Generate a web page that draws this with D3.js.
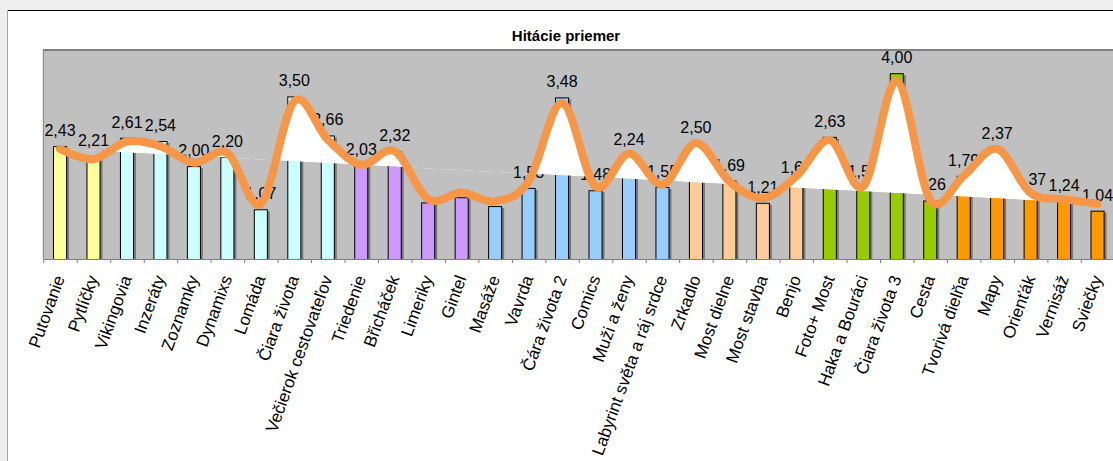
<!DOCTYPE html>
<html>
<head>
<meta charset="utf-8">
<script src="https://cdn.jsdelivr.net/npm/d3@7"></script>
<style>
  body { margin: 0; background: #efefef; overflow: hidden; }
  text { font-family: "Liberation Sans", Arial, sans-serif; }
</style>
</head>
<body>
<svg id="chart" width="1113" height="461"></svg>
<script>
// Data
const categories = [
    "Putovanie", "Pytlíčky", "Vikingovia", "Inzeráty", "Zoznamky", "Dynamixs", "Lomáda",
    "Čiara života", "Večierok cestovateľov", "Triedenie", "Břicháček", "Limeriky", "Gintel",
    "Masáže", "Vavrda", "Čára života 2", "Comics", "Muži a ženy", "Labyrint světa a ráj srdce",
    "Zrkadlo", "Most dielne", "Most stavba", "Benjo", "Foto+ Most", "Haka a Bouráci",
    "Čiara života 3", "Cesta", "Tvorivá dielňa", "Mapy", "Orienťák", "Vernisáž", "Sviečky"
];
const barValues = [
    2.43, 2.21, 2.61, 2.54, 2.00, 2.20, 1.07, 3.50, 2.66, 2.03, 2.32, 1.22, 1.33, 1.14, 1.53, 3.48,
    1.48, 2.24, 1.55, 2.50, 1.69, 1.21, 1.64, 2.63, 1.56, 4.00, 1.26, 1.79, 2.37, 1.37, 1.24, 1.04
];
const curveValues = [
    2.37, 2.15, 2.53, 2.43, 2.07, 2.28, 1.19, 3.40, 2.57, 2.03, 2.32, 1.29, 1.43, 1.24, 1.67, 3.36,
    1.56, 2.27, 1.60, 2.50, 1.67, 1.31, 1.78, 2.56, 1.56, 3.83, 1.27, 1.79, 2.37, 1.42, 1.29, 1.19
];
const groups = [0, 0, 1, 1, 1, 1, 1, 1, 1, 2, 2, 2, 2, 3, 3, 3, 3, 3, 3, 4, 4, 4, 4, 5, 5, 5, 5, 6, 6, 6, 6, 6];
const groupColors = ["#ffff99", "#ccffff", "#cc99ff", "#99ccff", "#ffcc99", "#99cc00", "#ff9900"];
const hiddenLabels = ["Limeriky", "Gintel", "Masáže"];
const title = "Hitácie priemer";

const width = 1113;
const height = 461;
const plot = { left: 43.3, right: 1114.3, top: 50, bottom: 259 };

const svg = d3.select("#chart");

// chart frame
svg.append("rect").attr("x", 7).attr("y", 10).attr("width", width).attr("height", height)
    .attr("fill", "#fff");
svg.append("line").attr("x1", 7).attr("x2", width).attr("y1", 10.5).attr("y2", 10.5)
    .attr("stroke", "#000").attr("stroke-width", 1);
svg.append("line").attr("x1", 7.5).attr("x2", 7.5).attr("y1", 10).attr("y2", height)
    .attr("stroke", "#a6a6a6").attr("stroke-width", 1);

svg.append("text")
    .attr("x", 566).attr("y", 41)
    .attr("text-anchor", "middle")
    .attr("font-size", 15).attr("font-weight", "bold")
    .text(title);

// scales
const x = d3.scaleBand()
    .domain(categories)
    .range([plot.left, plot.right])
    .paddingInner(0.58)
    .paddingOuter(0.29);
const y = d3.scaleLinear().domain([0, 4.5]).range([plot.bottom, plot.top]);
const cx = d => x(d) + x.bandwidth() / 2;

svg.append("defs").append("clipPath").attr("id", "plotClip")
    .append("rect")
    .attr("x", plot.left).attr("y", plot.top)
    .attr("width", plot.right - plot.left).attr("height", plot.bottom - plot.top);

svg.append("rect")
    .attr("x", plot.left).attr("y", plot.top)
    .attr("width", plot.right - plot.left).attr("height", plot.bottom - plot.top)
    .attr("fill", "#c0c0c0");

const rows = categories.map((c, i) => ({ cat: c, value: barValues[i], curve: curveValues[i], group: groups[i] }));

// bars with shadow
const barLayer = svg.append("g").attr("clip-path", "url(#plotClip)");
barLayer.selectAll(".shadow")
    .data(rows)
    .enter()
    .append("rect")
    .attr("class", "shadow")
    .attr("x", d => x(d.cat) + 2)
    .attr("y", d => y(d.value) + 2)
    .attr("width", x.bandwidth())
    .attr("height", d => y(0) - y(d.value))
    .attr("fill", "#7a7a7a");
barLayer.selectAll(".bar")
    .data(rows)
    .enter()
    .append("rect")
    .attr("class", "bar")
    .attr("x", d => x(d.cat) + 0.5)
    .attr("y", d => y(d.value) + 0.5)
    .attr("width", x.bandwidth() - 1)
    .attr("height", d => y(0) - y(d.value))
    .attr("fill", d => groupColors[d.group])
    .attr("stroke", "#000")
    .attr("stroke-width", 1);

// value labels
svg.append("g").selectAll("text")
    .data(rows.filter(d => !hiddenLabels.includes(d.cat)))
    .enter()
    .append("text")
    .attr("x", d => cx(d.cat))
    .attr("y", d => y(d.value) - 10)
    .attr("text-anchor", "middle")
    .attr("font-size", 16)
    .text(d => d3.format(".2f")(d.value).replace(".", ","));

// smoothed line and the white fill between it and its chord
const line = d3.line()
    .x(d => cx(d.cat))
    .y(d => y(d.curve))
    .curve(d3.curveCardinal.tension(0));

const first = rows[0], last = rows[rows.length - 1];
svg.select("defs").append("clipPath").attr("id", "chordClip")
    .append("polygon")
    .attr("points", [
        [cx(first.cat), y(first.curve)],
        [cx(last.cat), y(last.curve)],
        [cx(last.cat), plot.top],
        [cx(first.cat), plot.top]
    ].map(p => p.join(",")).join(" "));

svg.append("path")
    .attr("d", line(rows) + "Z")
    .attr("fill", "#fff")
    .attr("clip-path", "url(#chordClip)");

svg.append("path")
    .attr("d", line(rows))
    .attr("fill", "none")
    .attr("stroke", "#f79646")
    .attr("stroke-width", 8)
    .attr("stroke-linecap", "round")
    .attr("stroke-linejoin", "round");

// axis with ticks between categories
const tickScale = d3.scaleLinear().domain([0, categories.length]).range([plot.left, plot.right]);
svg.append("g")
    .attr("transform", `translate(0, ${plot.bottom})`)
    .call(d3.axisBottom(tickScale).tickValues(d3.range(categories.length + 1)).tickFormat("").tickSize(4).tickSizeOuter(0))
    .call(g => g.select(".domain").attr("stroke", "#808080"))
    .call(g => g.selectAll(".tick line").attr("stroke", "#808080"));

// plot border top and left
svg.append("line").attr("x1", plot.left).attr("x2", plot.right).attr("y1", plot.top).attr("y2", plot.top)
    .attr("stroke", "#808080").attr("stroke-width", 2);
svg.append("line").attr("x1", plot.left).attr("x2", plot.left).attr("y1", plot.top).attr("y2", plot.bottom)
    .attr("stroke", "#808080").attr("stroke-width", 1);

// category labels
svg.append("g").selectAll("text")
    .data(categories)
    .enter()
    .append("text")
    .attr("transform", d => `translate(${cx(d) + 5}, 278) rotate(-70)`)
    .attr("text-anchor", "end")
    .attr("font-size", 17)
    .text(d => d);
</script>
</body>
</html>
